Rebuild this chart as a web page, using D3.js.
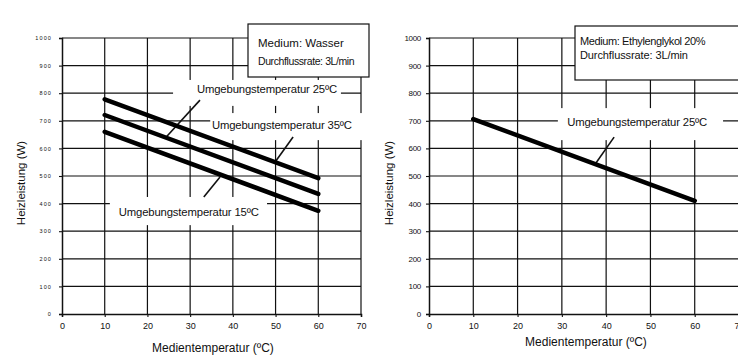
<!DOCTYPE html>
<html>
<head>
<meta charset="utf-8">
<script src="https://cdn.jsdelivr.net/npm/d3@7"></script>
<style>
body { margin: 0; background: #fff; }
text { font-family: "Liberation Sans", Arial, sans-serif; fill: #111; }
</style>
</head>
<body>
<svg id="chart" width="738" height="355"></svg>
<script>
// ---- data ----
var xTicks = [0, 10, 20, 30, 40, 50, 60, 70];
var yTicks = [0, 100, 200, 300, 400, 500, 600, 700, 800, 900, 1000];

// left chart: Wasser
var wasserTemp = [10, 60];
var wasser25 = [778, 492];
var wasser35 = [721, 435];
var wasser15 = [660, 374];

// right chart: Ethylenglykol 20%
var glykolTemp = [10, 60];
var glykol25 = [706, 410];

var legendLeft = ["Medium: Wasser", "Durchflussrate: 3L/min"];
var legendRight = ["Medium: Ethylenglykol 20%", "Durchflussrate: 3L/min"];

// labels: box in data units, text start + baseline, leader line
var labelsLeft = [
	{ text: "Umgebungstemperatur 25ºC", box: [26.0, 65.3, 848, 754], tx: 31.6, ty: 801, leader: [[32.3, 775], [24.4, 641]] },
	{ text: "Umgebungstemperatur 35ºC", box: [34.7, 70.3, 728, 630], tx: 35.1, ty: 670, leader: [[54.1, 641], [49.9, 551]] },
	{ text: "Umgebungstemperatur 15ºC", box: [11.2, 48.0, 424, 322], tx: 13.3, ty: 355, leader: [[37.0, 496], [33.2, 424]] }
];
var labelsRight = [
	{ text: "Umgebungstemperatur 25ºC", box: [29.1, 66.4, 746, 630], tx: 31.2, ty: 681, leader: [[41.8, 641], [37.7, 547]] }
];

var svg = d3.select("#chart");

/**
 * Draw one panel
 */
function drawPanel(cfg) {
	var x = d3.scaleLinear().domain([0, 70]).range([cfg.left, cfg.right]);
	var y = d3.scaleLinear().domain([0, 1000]).range([314, 38]);
	var g = svg.append("g");

	// grid
	g.selectAll(".vgrid").data(xTicks.slice(1)).enter().append("line")
		.attr("x1", function(d) { return x(d); }).attr("x2", function(d) { return x(d); })
		.attr("y1", y(0)).attr("y2", y(1000))
		.attr("stroke", "#111").attr("stroke-width", 1.2);
	g.selectAll(".hgrid").data(yTicks.slice(1)).enter().append("line")
		.attr("x1", x(0)).attr("x2", x(70))
		.attr("y1", function(d) { return y(d); }).attr("y2", function(d) { return y(d); })
		.attr("stroke", "#111").attr("stroke-width", 1.2);

	// axes
	var xAxis = g.append("g").attr("transform", "translate(0," + y(0) + ")")
		.call(d3.axisBottom(x).tickValues(xTicks).tickSize(3).tickPadding(6));
	xAxis.selectAll("text").attr("font-size", 9).style("font-family", "Liberation Sans, Arial, sans-serif").attr("fill", "#222");
	var yAxis = g.append("g").attr("transform", "translate(" + x(0) + ",0)")
		.call(d3.axisLeft(y).tickValues(yTicks).tickFormat(d3.format("d")).tickSize(3).tickPadding(cfg.yPad));
	yAxis.selectAll("text").attr("font-size", cfg.yFont)
		.style("font-family", "Liberation Sans, Arial, sans-serif")
		.style("letter-spacing", cfg.ySpacing + "px").attr("fill", "#222");
	g.selectAll(".domain").attr("stroke", "#111").attr("stroke-width", 1.5);
	g.selectAll(".tick line").attr("stroke", "#111").attr("stroke-width", 1.1);

	// axis titles
	g.append("text").attr("x", cfg.xTitleX).attr("y", cfg.xTitleY)
		.attr("text-anchor", "middle").attr("font-size", 12).text("Medientemperatur (ºC)");
	g.append("text").attr("transform", "translate(" + cfg.yTitleX + ",183) rotate(-90)")
		.attr("text-anchor", "middle").attr("font-size", 11.5).text("Heizleistung (W)");

	// labels with white background
	cfg.labels.forEach(function(l) {
		g.append("rect")
			.attr("x", x(l.box[0])).attr("y", y(l.box[2]))
			.attr("width", x(l.box[1]) - x(l.box[0])).attr("height", y(l.box[3]) - y(l.box[2]))
			.attr("fill", "#fff");
		g.append("text").attr("x", x(l.tx)).attr("y", y(l.ty))
			.attr("font-size", 11.3).style("letter-spacing", "-0.15px").text(l.text);
		g.append("line")
			.attr("x1", x(l.leader[0][0])).attr("y1", y(l.leader[0][1]))
			.attr("x2", x(l.leader[1][0])).attr("y2", y(l.leader[1][1]))
			.attr("stroke", "#111").attr("stroke-width", 1.6);
	});

	// data lines
	var line = d3.line().x(function(d) { return x(d[0]); }).y(function(d) { return y(d[1]); });
	cfg.series.forEach(function(s) {
		g.append("path")
			.datum(cfg.temps.map(function(t, i) { return [t, s[i]]; }))
			.attr("d", line).attr("fill", "none")
			.attr("stroke", "#000").attr("stroke-width", 4.5).attr("stroke-linecap", "round");
	});

	// legend box
	var lb = g.append("g");
	lb.append("rect").attr("x", cfg.legend.x).attr("y", cfg.legend.y)
		.attr("width", cfg.legend.w).attr("height", cfg.legend.h)
		.attr("fill", "#fff").attr("stroke", "#111").attr("stroke-width", 1.2);
	cfg.legend.lines.forEach(function(t, i) {
		lb.append("text").attr("x", cfg.legend.x + cfg.legend.pad).attr("y", cfg.legend.y + cfg.legend.base[i])
			.attr("font-size", cfg.legend.font[i]).style("letter-spacing", cfg.legend.spacing[i] + "px").text(t);
	});
}

drawPanel({
	left: 62, right: 361, yFont: 5.5, ySpacing: 1.1, yPad: 7,
	xTitleX: 213, xTitleY: 352, yTitleX: 25,
	temps: wasserTemp, series: [wasser25, wasser35, wasser15],
	labels: labelsLeft,
	legend: { x: 248, y: 24, w: 121, h: 53, pad: 10, base: [23, 41], font: [11.5, 10.5], spacing: [0, -0.4], lines: legendLeft }
});

drawPanel({
	left: 429, right: 739, yFont: 8, ySpacing: -0.3, yPad: 5,
	xTitleX: 586, xTitleY: 346, yTitleX: 393,
	temps: glykolTemp, series: [glykol25],
	labels: labelsRight,
	legend: { x: 575, y: 26, w: 170, h: 54, pad: 5, base: [19, 33], font: [11, 11], spacing: [-0.4, -0.1], lines: legendRight }
});
</script>
</body>
</html>
